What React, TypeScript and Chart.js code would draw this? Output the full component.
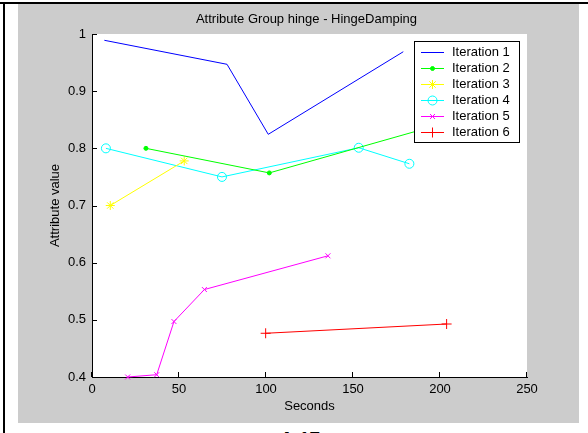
import React, { useEffect, useRef } from "react";
import { Chart, registerables } from "chart.js";
import { drawPoint } from "chart.js/helpers";

Chart.register(...registerables);

// ---- data ----
const seriesNames = ["Iteration 1", "Iteration 2", "Iteration 3", "Iteration 4", "Iteration 5", "Iteration 6"];

const iter1Seconds = [7.1, 77.6, 101.3, 178.9];
const iter1Values = [0.989, 0.947, 0.8245, 0.969];

const iter2Seconds = [31.0, 101.9, 198.0];
const iter2Values = [0.8, 0.757, 0.84];

const iter3Seconds = [10.5, 53.0];
const iter3Values = [0.7, 0.778];

const iter4Seconds = [8.0, 74.7, 153.3, 182.4];
const iter4Values = [0.8, 0.75, 0.801, 0.773];

const iter5Seconds = [20.5, 37.2, 47.1, 64.6, 135.6];
const iter5Values = [0.4, 0.404, 0.497, 0.553, 0.612];

const iter6Seconds = [99.8, 203.8];
const iter6Values = [0.4765, 0.4927];

const xTicks = [0, 50, 100, 150, 200, 250];
const yTicks = [0.4, 0.5, 0.6, 0.7, 0.8, 0.9, 1];

const titleText = "Attribute Group hinge - HingeDamping";
const xTitle = "Seconds";
const yTitle = "Attribute value";

// ---- styles ----
const seriesColors = ["#0000ff", "#00ff00", "#ffff00", "#00ffff", "#ff00ff", "#ff0000"];
const seriesPointStyles = ["circle", "circle", "star", "circle", "crossRot", "cross"];
const seriesPointRadius = [0, 2, 4.5, 4.5, 3.5, 5];
const seriesPointFill = ["#0000ff", "#00ff00", "#ffff00", "rgba(0,0,0,0)", "#ff00ff", "#ff0000"];

const FONT = "'Liberation Sans', Arial, sans-serif";

const allSeconds = [iter1Seconds, iter2Seconds, iter3Seconds, iter4Seconds, iter5Seconds, iter6Seconds];
const allValues = [iter1Values, iter2Values, iter3Values, iter4Values, iter5Values, iter6Values];

const decorPlugin = {
  id: "matlabDecor",
  beforeDraw(chart: any) {
    const { ctx, chartArea } = chart;
    ctx.save();
    ctx.fillStyle = "#ffffff";
    ctx.fillRect(chartArea.left, chartArea.top, chartArea.right - chartArea.left, chartArea.bottom - chartArea.top);
    ctx.restore();
  },
  afterDraw(chart: any) {
    const { ctx, chartArea } = chart;
    const xs = chart.scales.x;
    const ys = chart.scales.y;
    ctx.save();
    // inward tick marks
    ctx.strokeStyle = "#000";
    ctx.lineWidth = 1;
    ctx.beginPath();
    xTicks.forEach((v) => {
      const px = Math.round(xs.getPixelForValue(v)) - 0.5;
      ctx.moveTo(px, chartArea.bottom);
      ctx.lineTo(px, chartArea.bottom - 5);
    });
    yTicks.forEach((v) => {
      const py = Math.round(ys.getPixelForValue(v)) + 0.5;
      ctx.moveTo(chartArea.left, py);
      ctx.lineTo(chartArea.left + 5, py);
    });
    ctx.stroke();

    // title
    ctx.fillStyle = "#000";
    ctx.font = `13px ${FONT}`;
    ctx.textAlign = "center";
    ctx.textBaseline = "middle";
    ctx.fillText(titleText, (chartArea.left + chartArea.right) / 2 - 3, 19);

    // legend
    const left = chartArea.right - 113;
    const top = chartArea.top + 7;
    const w = 105;
    const h = 101;
    ctx.fillStyle = "#ffffff";
    ctx.fillRect(left, top, w, h);
    ctx.strokeStyle = "#000";
    ctx.lineWidth = 1;
    ctx.strokeRect(left + 0.5, top + 0.5, w, h);
    chart.data.datasets.forEach((ds: any, i: number) => {
      const y = Math.round(top + 11 + i * 15.95) + 0.5;
      ctx.strokeStyle = ds.borderColor;
      ctx.lineWidth = 1;
      ctx.beginPath();
      ctx.moveTo(left + 7, y);
      ctx.lineTo(left + 30, y);
      ctx.stroke();
      if (ds.pointRadius > 0) {
        ctx.fillStyle = ds.pointBackgroundColor;
        ctx.strokeStyle = ds.pointBorderColor;
        drawPoint(ctx, { pointStyle: ds.pointStyle, radius: ds.pointRadius, borderWidth: 1, rotation: 0 } as any, left + 18.5, y);
      }
      ctx.fillStyle = "#000";
      ctx.font = `13px ${FONT}`;
      ctx.textAlign = "left";
      ctx.textBaseline = "middle";
      ctx.fillText(ds.label, left + 38, y);
    });
    ctx.restore();
  },
};

export default function App() {
  const canvasRef = useRef<HTMLCanvasElement | null>(null);

  useEffect(() => {
    if (!canvasRef.current) return;
    Chart.defaults.font.family = FONT;
    Chart.defaults.font.size = 13;
    Chart.defaults.color = "#000";

    const datasets = seriesNames.map((name, i) => ({
      label: name,
      data: allSeconds[i].map((x, j) => ({ x, y: allValues[i][j] })),
      borderColor: seriesColors[i],
      backgroundColor: seriesColors[i],
      borderWidth: 1,
      pointStyle: seriesPointStyles[i],
      pointRadius: seriesPointRadius[i],
      pointHoverRadius: seriesPointRadius[i],
      pointBorderWidth: 1,
      pointBorderColor: seriesColors[i],
      pointBackgroundColor: seriesPointFill[i],
      fill: false,
      tension: 0,
      showLine: true,
      clip: false as any,
    }));

    const chart = new Chart(canvasRef.current, {
      type: "line",
      data: { datasets },
      options: {
        animation: false,
        responsive: false,
        events: [],
        layout: { padding: { left: 0, top: 34, right: 61, bottom: 0 } },
        plugins: {
          legend: { display: false },
          title: { display: false },
          tooltip: { enabled: false },
        },
        scales: {
          x: {
            type: "linear",
            min: 0,
            max: 250,
            afterBuildTicks: (s: any) => {
              s.ticks = xTicks.map((v) => ({ value: v }));
            },
            afterFit: (s: any) => {
              s.height = 56;
            },
            grid: { display: false, drawTicks: false },
            border: { display: true, color: "#000", width: 1 },
            ticks: {
              color: "#000",
              padding: 5,
              maxRotation: 0,
              autoSkip: false,
              font: { size: 13, family: FONT },
              callback: (v: any) => `${v}`,
            },
            title: {
              display: true,
              text: xTitle,
              color: "#000",
              font: { size: 13, family: FONT },
              padding: { top: 0, bottom: 18.5 },
            },
          },
          y: {
            type: "linear",
            min: 0.4,
            max: 1,
            afterBuildTicks: (s: any) => {
              s.ticks = yTicks.map((v) => ({ value: v }));
            },
            afterFit: (s: any) => {
              s.width = 92;
            },
            grid: { display: false, drawTicks: false },
            border: { display: true, color: "#000", width: 1 },
            ticks: {
              color: "#000",
              padding: 6,
              autoSkip: false,
              font: { size: 13, family: FONT },
              callback: (v: any) => `${v}`,
            },
            title: {
              display: true,
              text: yTitle,
              color: "#000",
              font: { size: 13, family: FONT },
              padding: { top: 48, bottom: 0 },
            },
          },
        },
      },
      plugins: [decorPlugin],
    } as any);

    return () => {
      chart.destroy();
    };
  }, []);

  return (
    <div
      style={{
        position: "absolute",
        left: 0,
        top: 0,
        width: 588,
        height: 433,
        overflow: "hidden",
        background: "#ffffff",
      }}
    >
      <div style={{ position: "absolute", left: 0, top: 2, width: 588, height: 2, background: "#000" }} />
      <div style={{ position: "absolute", left: 3, top: 2, width: 2, height: 431, background: "#000" }} />
      <div style={{ position: "absolute", left: 18, top: 4, width: 561, height: 419, background: "#cccccc" }} />
      <div
        style={{
          position: "absolute",
          left: 280,
          top: 428.5,
          fontFamily: FONT,
          fontWeight: "bold",
          fontSize: 19,
          lineHeight: "19px",
          color: "#000",
          whiteSpace: "nowrap",
        }}
      >
        A.17
      </div>
      <canvas
        ref={canvasRef}
        width={588}
        height={433}
        style={{ position: "absolute", left: 0, top: 0, width: 588, height: 433 }}
      />
    </div>
  );
}
